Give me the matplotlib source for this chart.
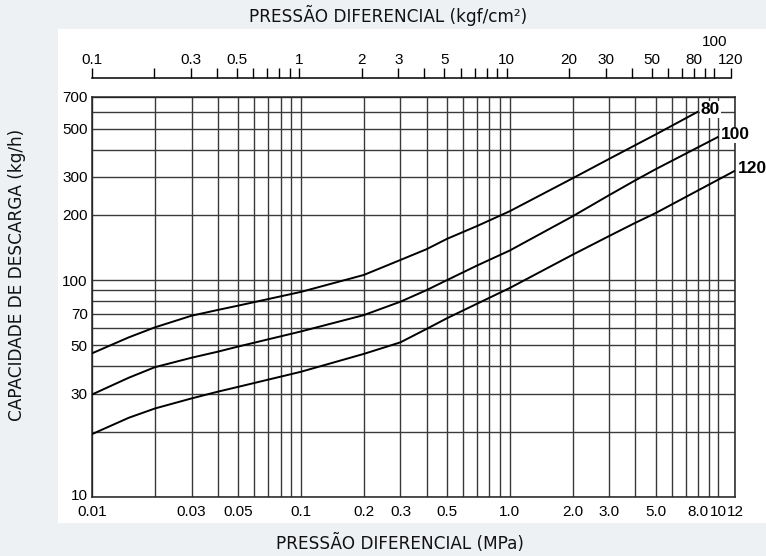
import matplotlib
matplotlib.use("Agg")
import matplotlib.pyplot as plt
from matplotlib.patches import Rectangle
from matplotlib.ticker import NullLocator
from matplotlib.transforms import ScaledTranslation

# ---------------- data ----------------
# Curve "80"
x80 = [0.01, 0.015, 0.02, 0.03, 0.04, 0.05, 0.1, 0.2, 0.3, 0.4, 0.5, 0.7, 1.0, 2.0, 3.0, 4.0, 5.0, 8.0]
y80 = [46, 54.5, 60.6, 68.6, 72.9, 76.3, 88.3, 105.7, 124, 139, 155, 178, 208, 295, 363, 420, 470, 600]
# Curve "100"
x100 = [0.01, 0.015, 0.02, 0.03, 0.04, 0.05, 0.1, 0.2, 0.3, 0.4, 0.5, 0.7, 1.0, 2.0, 3.0, 4.0, 5.0, 10.0]
y100 = [29.7, 35.5, 39.7, 43.9, 46.8, 49.4, 58, 69, 79.6, 90, 100, 117, 137, 197, 247, 289, 325, 459]
# Curve "120"
x120 = [0.01, 0.015, 0.02, 0.03, 0.04, 0.05, 0.1, 0.2, 0.3, 0.4, 0.5, 0.7, 1.0, 2.0, 3.0, 4.0, 5.0, 12.0]
y120 = [19.5, 23.2, 25.6, 28.5, 30.6, 32.2, 37.8, 45.7, 51.7, 59.6, 66.7, 78, 92, 131, 160, 184, 204, 320]

curve_labels = ["80", "100", "120"]

# bottom axis (MPa)
x_grid = [0.02, 0.03, 0.04, 0.05, 0.06, 0.07, 0.08, 0.09,
          0.1, 0.2, 0.3, 0.4, 0.5, 0.6, 0.7, 0.8, 0.9,
          1, 2, 3, 4, 5, 6, 7, 8, 9, 10]
x_labels = {0.01: "0.01", 0.03: "0.03", 0.05: "0.05", 0.1: "0.1", 0.2: "0.2",
            0.3: "0.3", 0.5: "0.5", 1: "1.0", 2: "2.0", 3: "3.0", 5: "5.0",
            8: "8.0", 10: "10", 12: "12"}
# left axis (kg/h)
y_grid = [20, 30, 40, 50, 60, 70, 80, 90, 100, 200, 300, 400, 500, 600, 700]
y_labels = {10: "10", 30: "30", 50: "50", 70: "70", 100: "100", 200: "200",
            300: "300", 500: "500", 700: "700"}
# top axis (kgf/cm2)
top_ticks = [0.1, 0.2, 0.3, 0.4, 0.5, 0.6, 0.7, 0.8, 0.9, 1, 2, 3, 4, 5, 6, 7, 8, 9,
             10, 20, 30, 40, 50, 60, 70, 80, 90, 100, 120]
top_labels = {0.1: "0.1", 0.3: "0.3", 0.5: "0.5", 1: "1", 2: "2", 3: "3", 5: "5",
              10: "10", 20: "20", 30: "30", 50: "50", 80: "80", 120: "120"}
top_raised_label = (100, "100")
KGF_PER_MPA = 10.5

# ---------------- figure ----------------
W, H = 766, 556
fig = plt.figure(figsize=(W / 100, H / 100), dpi=100, facecolor="#eef1f4")
fig.patches.append(Rectangle((58 / W, (H - 523) / H), 1 - 58 / W, (523 - 29) / H,
                             transform=fig.transFigure, facecolor="white",
                             edgecolor="none", zorder=-10))

ax = fig.add_axes([92 / W, (H - 497) / H, (735 - 92) / W, (497 - 97) / H])
ax.set_xscale("log")
ax.set_yscale("log")
ax.set_xlim(0.01, 12)
ax.set_ylim(10, 700)

tick_font = dict(family="Liberation Sans", size=11)
gridc = "#3a3a3a"

# top axis (twin, shares y)
ax2 = ax.twiny()
ax2.set_xscale("log")
ax2.set_xlim(0.01 * KGF_PER_MPA, 12 * KGF_PER_MPA)
for k in ["left", "right", "bottom"]:
    ax2.spines[k].set_visible(False)
ax2.spines["top"].set_position(("outward", 13.7))
ax2.spines["top"].set_bounds(0.1, 120)
ax2.spines["top"].set_linewidth(1.1)
ax2.set_xticks(top_ticks)
ax2.set_xticklabels([top_labels.get(v, "") for v in top_ticks], **tick_font)
ax2.xaxis.set_minor_locator(NullLocator())
ax2.tick_params(axis="x", direction="out", length=7, width=1.0, pad=1)
ax2.tick_params(axis="y", which="both", left=False, right=False,
                labelleft=False, labelright=False)
ax2.grid(False)
ax2.text(top_raised_label[0], 1 + 55 / 400, top_raised_label[1], ha="center", va="center",
         transform=ax2.get_xaxis_transform(), clip_on=False, **tick_font)

# main axis ticks / grid
xt = sorted(set(x_grid) | set(x_labels.keys()))
ax.set_xticks(xt)
ax.set_xticklabels([x_labels.get(v, "") for v in xt], **tick_font)
yt = sorted(set(y_grid) | set(y_labels.keys()))
ax.set_yticks(yt)
ylabs = ax.set_yticklabels([y_labels.get(v, "") for v in yt], **tick_font)
ax.xaxis.set_minor_locator(NullLocator())
ax.yaxis.set_minor_locator(NullLocator())
ax.tick_params(axis="x", length=0, pad=6)
ax.tick_params(axis="y", length=0, pad=3)
# nudge the bottom "10" label up slightly, as in the reference
ylabs[0].set_transform(ylabs[0].get_transform() + ScaledTranslation(0, 3 / 100, fig.dpi_scale_trans))
ax.xaxis.grid(True, which="major", color=gridc, linewidth=1.0)
ax.yaxis.grid(True, which="major", color=gridc, linewidth=1.0)
for s in ax.spines.values():
    s.set_color("#222222")
    s.set_linewidth(1.1)

for xs, ys in [(x80, y80), (x100, y100), (x120, y120)]:
    ax.plot(xs, ys, color="black", linewidth=1.4, zorder=3, solid_capstyle="butt",
            solid_joinstyle="round")

lab_font = dict(family="Liberation Sans", size=12.5, weight="bold")
ends = [(x80[-1], y80[-1]), (x100[-1], y100[-1]), (x120[-1], y120[-1])]
for (ex, ey), lab in zip(ends, curve_labels):
    ax.text(ex * 1.03, ey * 1.02, lab, ha="left", va="center", clip_on=False, zorder=4,
            bbox=dict(facecolor="white", edgecolor="none", pad=0.5), **lab_font)

title_font = dict(family="DejaVu Sans", size=12.2, color="#111111")
fig.text(388 / W, 1 - 15 / H, "PRESSÃO DIFERENCIAL (kgf/cm²)", ha="center", va="center", **title_font)
fig.text(400 / W, 1 - 543 / H, "PRESSÃO DIFERENCIAL (MPa)", ha="center", va="center", **title_font)
fig.text(17 / W, 1 - 275 / H, "CAPACIDADE DE DESCARGA (kg/h)", ha="center", va="center",
         rotation=90, **title_font)

fig.savefig("out.png", dpi=100, facecolor=fig.get_facecolor())
